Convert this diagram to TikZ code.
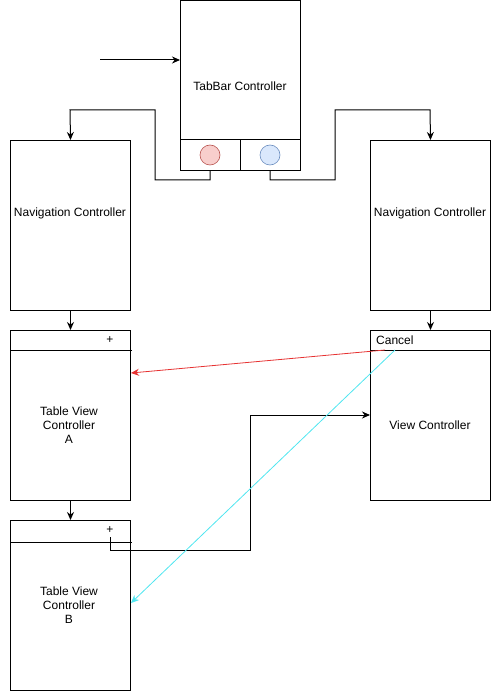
\documentclass[tikz,border=0pt]{standalone}
\usepackage{fontspec}
\setmainfont{Liberation Sans}
\usetikzlibrary{arrows.meta}
\begin{document}
\begin{tikzpicture}[x=1pt,y=-1pt,
  box/.style={draw=black,line width=1pt,minimum width=120pt,minimum height=170pt,inner sep=0pt,anchor=north west},
  lbl/.style={font=\fontsize{12}{14}\selectfont,align=center,inner sep=0pt},
  conn/.style={draw=black,line width=1pt,-{Stealth[length=8pt,width=7pt]}},
  tab/.style={circle,minimum size=20pt,inner sep=0pt,line width=0.6pt}]
\useasboundingbox (0,0) rectangle (501,692);
% boxes
\node[box] (tabbar) at (180,0) {};
\node[box] (navL) at (10,140) {};
\node[box] (navR) at (370,140) {};
\node[box] (tvA) at (10,330) {};
\node[box] (vc) at (370,330) {};
\node[box] (tvB) at (10,520) {};
% header dividers
\draw[line width=1pt] (180,140) -- (300,140);
\draw[line width=1pt] (240,140) -- (240,170);
\draw[line width=1pt] (10,350) -- (132,350);
\draw[line width=1pt] (370,350) -- (490,350);
\draw[line width=1pt] (10,542) -- (132,542);
% tab icons
\node[tab,draw={rgb,255:red,184;green,84;blue,80},fill={rgb,255:red,248;green,206;blue,204}] (tab1) at (210,155) {};
\node[tab,draw={rgb,255:red,108;green,142;blue,191},fill={rgb,255:red,218;green,232;blue,252}] (tab2) at (270,155) {};
% labels
\node[lbl] (tabtxt) at (240,86) {TabBar Controller};
\node[lbl] (navLtxt) at (70,213) {Navigation Controller};
\node[lbl] (navRtxt) at (430,213) {Navigation Controller};
\node[lbl] (tvAtxt) at (69,425) {Table View\\Controller\\A};
\node[lbl] (vctxt) at (430,425) {View Controller};
\node[lbl] (tvBtxt) at (69,605) {Table View\\Controller\\B};
\node[lbl,anchor=west] (cancel) at (376,340) {Cancel};
\node[lbl] (plusA) at (110,340) {+};
\node[lbl] (plusB) at (110,530) {+};
\coordinate (start) at (100,60);
\coordinate (plusBb) at (110,537);
\coordinate (cancelb) at (395,350);
% connectors
\draw[conn] (start) -- (tabbar.west |- start);
\draw[conn] (tab1.south |- tabbar.south) -- (210,180) -- (155,180) -- (155,110) -- (70,110) -- (navL.north);
\draw[conn] (tab2.south |- tabbar.south) -- (270,180) -- (335,180) -- (335,110) -- (430,110) -- (navR.north);
\draw[conn] (navL.south) -- (tvA.north);
\draw[conn] (navR.south) -- (vc.north);
\draw[conn] (tvA.south) -- (tvB.north);
\draw[conn] (plusBb) -- (110,550) -- (250,550) -- (250,415) -- (vc.west |- 0,415);
\draw[draw={rgb,255:red,230;green,50;blue,50},line width=0.8pt,-{Stealth[length=8pt,width=7pt]}] (385,350) -- (tvA.east |- 0,373);
\draw[draw={rgb,255:red,80;green,230;blue,240},line width=0.8pt,-{Stealth[length=8pt,width=7pt]}] (cancelb) -- (tvB.east |- 0,603);
\end{tikzpicture}
\end{document}
